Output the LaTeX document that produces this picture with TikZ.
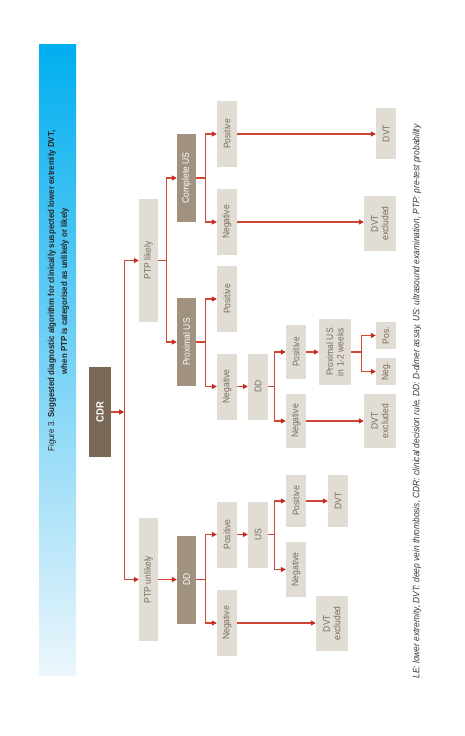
\documentclass[tikz,border=0pt]{standalone}
\usepackage{fontspec}
\setmainfont[FakeStretch=0.9]{Liberation Sans}
\usetikzlibrary{arrows.meta}
\definecolor{cyanband}{RGB}{0,174,239}
\definecolor{paleband}{RGB}{236,246,252}
\definecolor{cdrbrown}{RGB}{122,105,84}
\definecolor{taupe}{RGB}{160,146,126}
\definecolor{sand}{RGB}{225,220,212}
\definecolor{boxtext}{RGB}{120,110,96}
\definecolor{linkred}{RGB}{208,70,55}
\definecolor{tipred}{RGB}{196,42,30}

\tikzset{
  box/.style={rotate=90, inner sep=0pt, align=center, font=\fontsize{9.5}{10.5}\selectfont},
  darkbox/.style={box, fill=cdrbrown, text=white, font=\fontsize{10.5}{11}\selectfont\bfseries},
  midbox/.style={box, fill=taupe, text=white},
  lightbox/.style={box, fill=sand, text=boxtext},
  sz/.style 2 args={minimum width=#1, minimum height=#2},
  link/.style={linkred, line width=1.1pt},
  arrow/.style={link, -{Triangle[length=5pt,width=5pt,color=tipred]}},
}

\begin{document}
\begin{tikzpicture}[x=1pt, y=-1pt]
  \useasboundingbox (0,0) rectangle (465,736);
  % title band
  \shade[top color=cyanband, middle color=cyanband!45!white, bottom color=paleband] (39,44) rectangle (76,675);
  \node[rotate=90, align=center, text=black!85, font=\fontsize{8.7}{13}\selectfont] (title) at (58.5,291)
    {Figure 3. \textbf{Suggested diagnostic algorithm for clinically suspected lower extremity DVT,}\\
     \textbf{when PTP is categorised as unlikely or likely}};

  % boxes
  \node[darkbox, sz={90}{22}] (cdr) at (100,412) {CDR};
  \node[lightbox, sz={123}{19}] (ptpl) at (148.5,260.5) {PTP likely};
  \node[lightbox, sz={123}{19}] (ptpu) at (148.5,579.5) {PTP unlikely};
  \node[midbox, sz={88}{19}] (cus) at (186.5,178) {Complete US};
  \node[midbox, sz={88}{19}] (pus) at (186.5,342) {Proximal US};
  \node[midbox, sz={88}{19}] (ddu) at (186.5,579.5) {DD};
  \node[lightbox, sz={66}{20}] (cpos) at (227,134) {Positive};
  \node[lightbox, sz={66}{20}] (cneg) at (227,222) {Negative};
  \node[lightbox, sz={66}{20}] (ppos) at (227,299) {Positive};
  \node[lightbox, sz={66}{20}] (pneg) at (227,386.5) {Negative};
  \node[lightbox, sz={66}{20}] (upos) at (227,534.5) {Positive};
  \node[lightbox, sz={66}{20}] (uneg) at (227,623) {Negative};
  \node[lightbox, sz={66}{20}] (ddp) at (258,386.5) {DD};
  \node[lightbox, sz={66}{20}] (usu) at (258,534.5) {US};
  \node[lightbox, sz={54}{20}] (dpos) at (296,352) {Positive};
  \node[lightbox, sz={54}{20}] (dneg) at (296,421) {Negative};
  \node[lightbox, sz={52}{20}] (uspos) at (296,501) {Positive};
  \node[lightbox, sz={55}{20}] (usneg) at (296,569.5) {Negative};
  \node[lightbox, sz={66}{32}] (repeat) at (335,352) {Proximal US\\in 1-2 weeks};
  \node[lightbox, sz={27}{20}] (rpos) at (386,335.5) {Pos.};
  \node[lightbox, sz={27}{20}] (rneg) at (386,371.5) {Neg.};
  \node[lightbox, sz={51}{20}] (cdvt) at (386,133.5) {DVT};
  \node[lightbox, sz={55}{32}] (cexcl) at (380,223.5) {DVT\\excluded};
  \node[lightbox, sz={54}{32}] (dexcl) at (380,421) {DVT\\excluded};
  \node[lightbox, sz={52}{20}] (udvt) at (338,501) {DVT};
  \node[lightbox, sz={55}{32}] (uexcl) at (332,623.5) {DVT\\excluded};

  % connectors
  \draw[arrow] (cdr.south) -- ++(13,0) coordinate (t0);
  \draw[arrow] (t0) |- (ptpl.north);
  \draw[arrow] (t0) |- (ptpu.north);
  \draw[link] (ptpl.south) -- ++(8,0) coordinate (t1);
  \draw[arrow] (t1) |- (cus.north);
  \draw[arrow] (t1) |- (pus.north);
  \draw[arrow] (ptpu.south) -- (ddu.north);
  \draw[link] (cus.south) -- ++(9,0) coordinate (t2);
  \draw[arrow] (t2) |- (cpos.north);
  \draw[arrow] (t2) |- (cneg.north);
  \draw[link] (pus.south) -- ++(9,0) coordinate (t3);
  \draw[arrow] (t3) |- (ppos.north);
  \draw[arrow] (t3) |- (pneg.north);
  \draw[link] (ddu.south) -- ++(9,0) coordinate (t4);
  \draw[arrow] (t4) |- (upos.north);
  \draw[arrow] (t4) |- (uneg.north);
  \draw[arrow] (pneg.south) -- (ddp.north);
  \draw[arrow] (upos.south) -- (usu.north);
  \draw[link] (ddp.south) -- ++(6,0) coordinate (t5);
  \draw[arrow] (t5) |- (dpos.north);
  \draw[arrow] (t5) |- (dneg.north);
  \draw[link] (usu.south) -- ++(6,0) coordinate (t6);
  \draw[arrow] (t6) |- (uspos.north);
  \draw[arrow] (t6) |- (usneg.north);
  \draw[arrow] (dpos.south) -- (repeat.north);
  \draw[link] (repeat.south) -- ++(10,0) coordinate (t7);
  \draw[arrow] (t7) |- (rpos.north);
  \draw[arrow] (t7) |- (rneg.north);
  \draw[arrow] (cpos.south) -- (cpos.south -| cdvt.north);
  \draw[arrow] (cneg.south) -- (cneg.south -| cexcl.north);
  \draw[arrow] (dneg.south) -- (dneg.south -| dexcl.north);
  \draw[arrow] (uspos.south) -- (udvt.north);
  \draw[arrow] (uneg.south) -- (uneg.south -| uexcl.north);

  % legend
  \node[rotate=90, anchor=west, text=black!80, font=\fontsize{9.3}{10}\selectfont\itshape] (legend) at (417,682)
    {LE: lower extremity, DVT: deep vein thrombosis, CDR: clinical decision rule, DD: D-dimer assay, US: ultrasound examination, PTP: pre-test probability};
\end{tikzpicture}
\end{document}
